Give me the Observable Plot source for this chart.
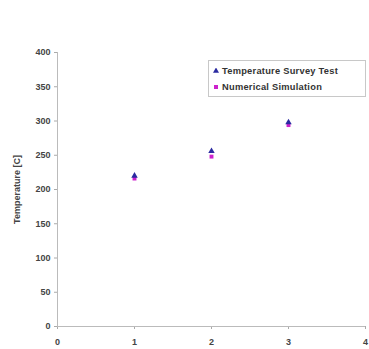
<!DOCTYPE html>
<html><head><meta charset="utf-8">
<script src="https://cdn.jsdelivr.net/npm/d3@7"></script>
<script src="https://cdn.jsdelivr.net/npm/@observablehq/plot@0.6"></script>
<style>
body{margin:0;background:#fff;font-family:Arial,"Liberation Sans",sans-serif;}
#wrap{position:relative;width:369px;height:349px;}
#legend{position:absolute;left:208px;top:60px;width:158px;height:37px;border:1px solid #c8c8c8;background:#fff;font:bold 9.3px Arial,"Liberation Sans",sans-serif;letter-spacing:0.25px;color:#333;box-sizing:border-box;padding:2px 0 0 4px;}
#legend div{height:16px;display:flex;align-items:center;white-space:nowrap;}
#legend svg{margin-right:3px;}
</style></head>
<body><div id="wrap"><div id="legend"></div></div>
<script>
const tests = [1, 2, 3];
const surveyTest = [220, 256, 298];
const simulation = [216, 248, 294];
const seriesNames = ["Temperature Survey Test", "Numerical Simulation"];
const seriesColors = ["#2a2aa0", "#cc22cc"];
const xTicks = [0, 1, 2, 3, 4];
const yTicks = [0, 50, 100, 150, 200, 250, 300, 350, 400];

const rows = [];
tests.forEach((t, i) => {
  rows.push({test: t, temp: simulation[i], series: seriesNames[1]});
  rows.push({test: t, temp: surveyTest[i], series: seriesNames[0]});
});

const chart = Plot.plot({
  width: 369, height: 349,
  marginLeft: 57, marginTop: 52, marginBottom: 23, marginRight: 4,
  style: {fontFamily: "Arial, 'Liberation Sans', sans-serif", fontSize: "9px", fontWeight: "bold", color: "#444"},
  x: {domain: [0, 4]},
  y: {domain: [0, 400]},
  marks: [
    Plot.axisX({ticks: xTicks, tickFormat: d3.format("d"), tickSize: 3, tickPadding: 9, stroke: "#aaa", label: null}),
    Plot.axisY({ticks: yTicks, tickFormat: d3.format("d"), tickSize: 3, tickPadding: 4, stroke: "#aaa", label: "Temperature [C]", labelAnchor: "center", labelArrow: "none", labelOffset: 44}),
    Plot.ruleY([0], {stroke: "#bbb"}),
    Plot.ruleX([0], {stroke: "#bbb"}),
    Plot.dot(rows.filter(d => d.series === seriesNames[1]), {x: "test", y: "temp", symbol: "square", r: 2.2, fill: seriesColors[1], stroke: "none"}),
    Plot.dot(rows.filter(d => d.series === seriesNames[0]), {x: "test", y: "temp", symbol: "triangle", r: 2.4, fill: seriesColors[0], stroke: "none"})
  ]
});
document.getElementById("wrap").prepend(chart);

const lg = document.getElementById("legend");
const syms = ["triangle", "square"];
seriesNames.forEach((name, i) => {
  const row = document.createElement("div");
  const sym = d3.create("svg").attr("width", 6).attr("height", 6);
  sym.append("path").attr("transform", "translate(3,3)")
    .attr("d", d3.symbol(syms[i] === "triangle" ? d3.symbolTriangle : d3.symbolSquare, 16)())
    .attr("fill", seriesColors[i]);
  row.appendChild(sym.node());
  row.appendChild(document.createTextNode(name));
  lg.appendChild(row);
});
</script></body></html>
